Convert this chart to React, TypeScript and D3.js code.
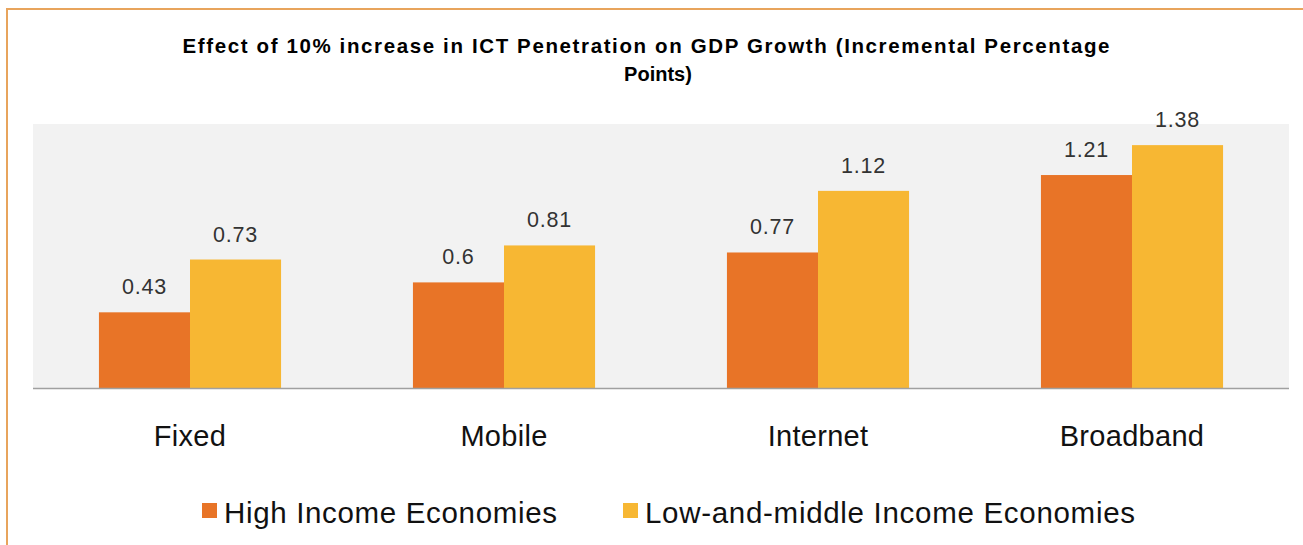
import React, { useEffect, useRef } from 'react';
import * as d3 from 'd3';

const categories = ['Fixed', 'Mobile', 'Internet', 'Broadband'];
const seriesNames = ['High Income Economies', 'Low-and-middle Income Economies'];
const highIncome = [0.43, 0.6, 0.77, 1.21];
const lowMiddleIncome = [0.73, 0.81, 1.12, 1.38];
const colors = ['#E87427', '#F7B733'];
const titleLines = [
    'Effect of 10% increase in ICT Penetration on GDP Growth (Incremental Percentage',
    'Points)',
];

const App = () => {
    const svgRef = useRef<SVGSVGElement>(null);

    useEffect(() => {
        const width = 1303;
        const height = 545;
        const plot = { left: 33, right: 1289, top: 124, bottom: 388 };
        const font = 'Liberation Sans, Arial, sans-serif';

        const svg = d3.select(svgRef.current)
            .attr('width', width)
            .attr('height', height);
        svg.selectAll('*').remove();

        svg.append('rect').attr('width', width).attr('height', height).attr('fill', '#fff');

        // outer frame (top and left edges visible)
        svg.append('path')
            .attr('d', `M7,${height} V9 H${width}`)
            .attr('fill', 'none')
            .attr('stroke', '#E8A45C')
            .attr('stroke-width', 2);

        // title
        svg.append('text')
            .attr('x', 646).attr('y', 53)
            .attr('text-anchor', 'middle')
            .attr('font-family', font).attr('font-weight', 'bold').attr('font-size', 20.5)
            .attr('textLength', 927).attr('lengthAdjust', 'spacing')
            .text(titleLines[0]);
        svg.append('text')
            .attr('x', 658).attr('y', 81)
            .attr('text-anchor', 'middle')
            .attr('font-family', font).attr('font-weight', 'bold').attr('font-size', 20)
            .text(titleLines[1]);

        const x0 = d3.scaleBand()
            .domain(categories)
            .range([plot.left, plot.right])
            .paddingInner(0.42)
            .paddingOuter(0.21);

        const x1 = d3.scaleBand()
            .domain(seriesNames)
            .range([0, x0.bandwidth()]);

        const y = d3.scaleLinear()
            .domain([0, 1.5])
            .range([plot.bottom, plot.top]);

        svg.append('rect')
            .attr('x', plot.left).attr('y', plot.top)
            .attr('width', plot.right - plot.left).attr('height', plot.bottom - plot.top)
            .attr('fill', '#F2F2F2');

        const rows = categories.map((c, i) => ({ cat: c, values: [highIncome[i], lowMiddleIncome[i]] }));

        const groups = svg.selectAll('g.cat')
            .data(rows)
            .enter()
            .append('g')
            .attr('class', 'cat')
            .attr('transform', d => `translate(${x0(d.cat)},0)`);

        groups.selectAll('rect')
            .data(d => d.values.map((v, j) => ({ v, j })))
            .enter()
            .append('rect')
            .attr('x', d => x1(seriesNames[d.j]))
            .attr('y', d => y(d.v))
            .attr('width', x1.bandwidth())
            .attr('height', d => y(0) - y(d.v))
            .attr('fill', d => colors[d.j]);

        groups.selectAll('text.val')
            .data(d => d.values.map((v, j) => ({ v, j })))
            .enter()
            .append('text')
            .attr('class', 'val')
            .attr('x', d => x1(seriesNames[d.j]) + x1.bandwidth() / 2)
            .attr('y', d => y(d.v) - 18)
            .attr('text-anchor', 'middle')
            .attr('font-family', font).attr('font-size', 21.5)
            .attr('letter-spacing', 0.8)
            .attr('fill', '#333')
            .text(d => String(d.v));

        // baseline
        svg.append('line')
            .attr('x1', plot.left).attr('x2', plot.right)
            .attr('y1', y(0) + 0.5).attr('y2', y(0) + 0.5)
            .attr('stroke', '#A0A0A0').attr('stroke-width', 1.5);

        // category labels
        svg.selectAll('text.cat')
            .data(categories)
            .enter()
            .append('text')
            .attr('class', 'cat')
            .attr('x', d => x0(d) + x0.bandwidth() / 2)
            .attr('y', 446)
            .attr('text-anchor', 'middle')
            .attr('font-family', font).attr('font-size', 29)
            .attr('letter-spacing', 0.3)
            .attr('fill', '#111')
            .text(d => d);

        // legend
        const legendItems = [
            { name: seriesNames[0], sx: 202, tx: 224, len: 333 },
            { name: seriesNames[1], sx: 623, tx: 645, len: 490 },
        ];
        legendItems.forEach((it, i) => {
            svg.append('rect')
                .attr('x', it.sx).attr('y', 503)
                .attr('width', 15).attr('height', 15)
                .attr('fill', colors[i]);
            svg.append('text')
                .attr('x', it.tx).attr('y', 522.5)
                .attr('font-family', font).attr('font-size', 29.5)
                .attr('textLength', it.len).attr('lengthAdjust', 'spacing')
                .attr('fill', '#111')
                .text(it.name);
        });
    }, []);

    return <svg ref={svgRef} style={{ position: 'absolute', left: 0, top: 0 }}></svg>;
};

export default App;
